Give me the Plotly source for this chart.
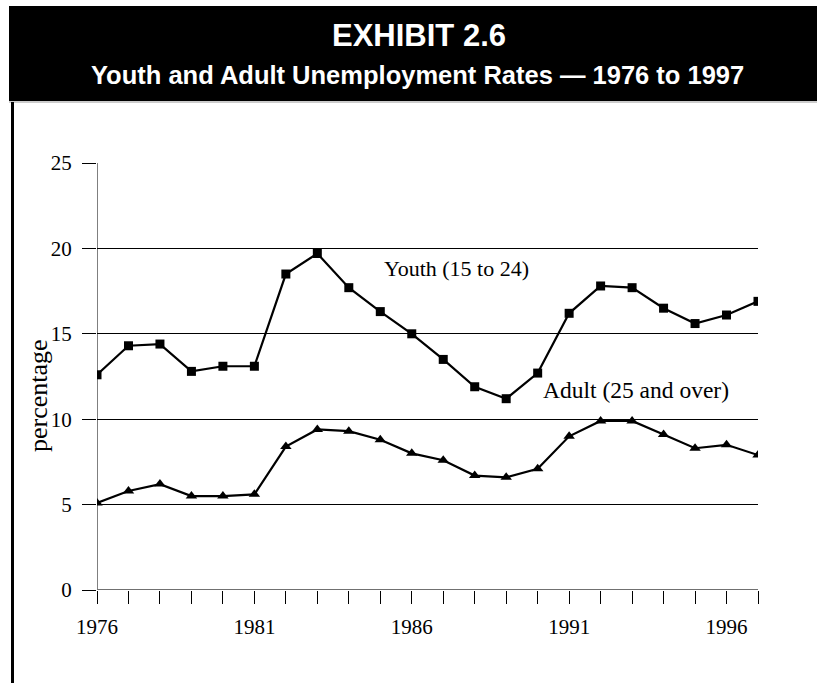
import plotly.graph_objects as go

years = list(range(1976, 1998))
youth = [12.6, 14.3, 14.4, 12.8, 13.1, 13.1, 18.5, 19.7, 17.7, 16.3, 15.0,
         13.5, 11.9, 11.2, 12.7, 16.2, 17.8, 17.7, 16.5, 15.6, 16.1, 16.9]
adult = [5.1, 5.8, 6.2, 5.5, 5.5, 5.6, 8.4, 9.4, 9.3, 8.8, 8.0,
         7.6, 6.7, 6.6, 7.1, 9.0, 9.9, 9.9, 9.1, 8.3, 8.5, 7.9]
x_labels = {1976: "1976", 1981: "1981", 1986: "1986", 1991: "1991", 1996: "1996"}
y_ticks = [0, 5, 10, 15, 20, 25]

SERIF = "Liberation Serif, Times New Roman, serif"
SANS = "Liberation Sans, Arial, sans-serif"

W, H = 817, 683
L, R, T, B = 97, 59, 163, 93
pw, ph = W - L - R, H - T - B

def px(x):
    return (x - L) / pw

def py(y):
    return (H - B - y) / ph

fig = go.Figure()
fig.add_trace(go.Scatter(x=years, y=youth, mode="lines+markers",
                         line=dict(color="black", width=2.2),
                         marker=dict(symbol="square", size=9, color="black"),
                         name="Youth (15 to 24)", showlegend=False))
fig.add_trace(go.Scatter(x=years, y=adult, mode="lines+markers",
                         line=dict(color="black", width=2.2),
                         marker=dict(symbol="triangle-up", size=10, color="black"),
                         name="Adult (25 and over)", showlegend=False))

shapes = [
    dict(type="rect", xref="paper", yref="paper", x0=px(9), x1=px(817), y0=py(101), y1=py(6),
         fillcolor="black", line=dict(width=0), layer="above"),
    dict(type="line", xref="paper", yref="paper", x0=px(9), x1=px(817), y0=py(102), y1=py(102),
         line=dict(color="#999999", width=1)),
    dict(type="line", xref="paper", yref="paper", x0=px(12.5), x1=px(12.5), y0=py(683), y1=py(102),
         line=dict(color="black", width=3)),
]

annotations = [
    dict(text="<b>EXHIBIT 2.6</b>", xref="paper", yref="paper", x=px(419), y=py(36),
         showarrow=False, font=dict(family=SANS, size=31, color="white"),
         xanchor="center", yanchor="middle"),
    dict(text="<b>Youth and Adult Unemployment Rates — 1976 to 1997</b>", xref="paper", yref="paper",
         x=px(417), y=py(75), showarrow=False, font=dict(family=SANS, size=25.5, color="white"),
         xanchor="center", yanchor="middle"),
    dict(text="percentage", xref="paper", yref="paper", x=px(38), y=py(396), textangle=-90,
         showarrow=False, font=dict(family=SERIF, size=26, color="black"),
         xanchor="center", yanchor="middle"),
    dict(text="Youth (15 to 24)", x=1985.05, y=18.85, xref="x", yref="y", showarrow=False,
         xanchor="left", yanchor="middle", font=dict(family=SERIF, size=22, color="black")),
    dict(text="Adult (25 and over)", x=1990.1, y=11.7, xref="x", yref="y", showarrow=False,
         xanchor="left", yanchor="middle", font=dict(family=SERIF, size=23.5, color="black")),
]

fig.update_layout(
    width=W, height=H,
    margin=dict(l=L, r=R, t=T, b=B, pad=0),
    paper_bgcolor="white", plot_bgcolor="white",
    shapes=shapes, annotations=annotations,
    xaxis=dict(range=[1976, 1997], tickmode="array", tickvals=years,
               ticktext=[x_labels.get(y, "") for y in years],
               ticks="outside", ticklen=13, tickcolor="black", tickwidth=1,
               showgrid=False, showline=False, zeroline=False,
               tickfont=dict(family=SERIF, size=21, color="black"),
               ticklabelstandoff=5),
    yaxis=dict(range=[0, 25], tickmode="array", tickvals=y_ticks,
               ticks="outside", ticklen=14, tickcolor="black", tickwidth=1,
               showgrid=True, gridcolor="black", gridwidth=1,
               showline=False, zeroline=False,
               tickfont=dict(family=SERIF, size=21, color="black"),
               ticklabelstandoff=6),
)
# vertical axis line at the start of the x range
fig.add_shape(type="line", xref="x", yref="paper", x0=1976, x1=1976, y0=0, y1=1,
              line=dict(color="black", width=1))
fig.add_shape(type="line", xref="paper", yref="y", x0=0, x1=1, y0=0, y1=0,
              line=dict(color="#707070", width=2))

fig.write_html("out.html")
